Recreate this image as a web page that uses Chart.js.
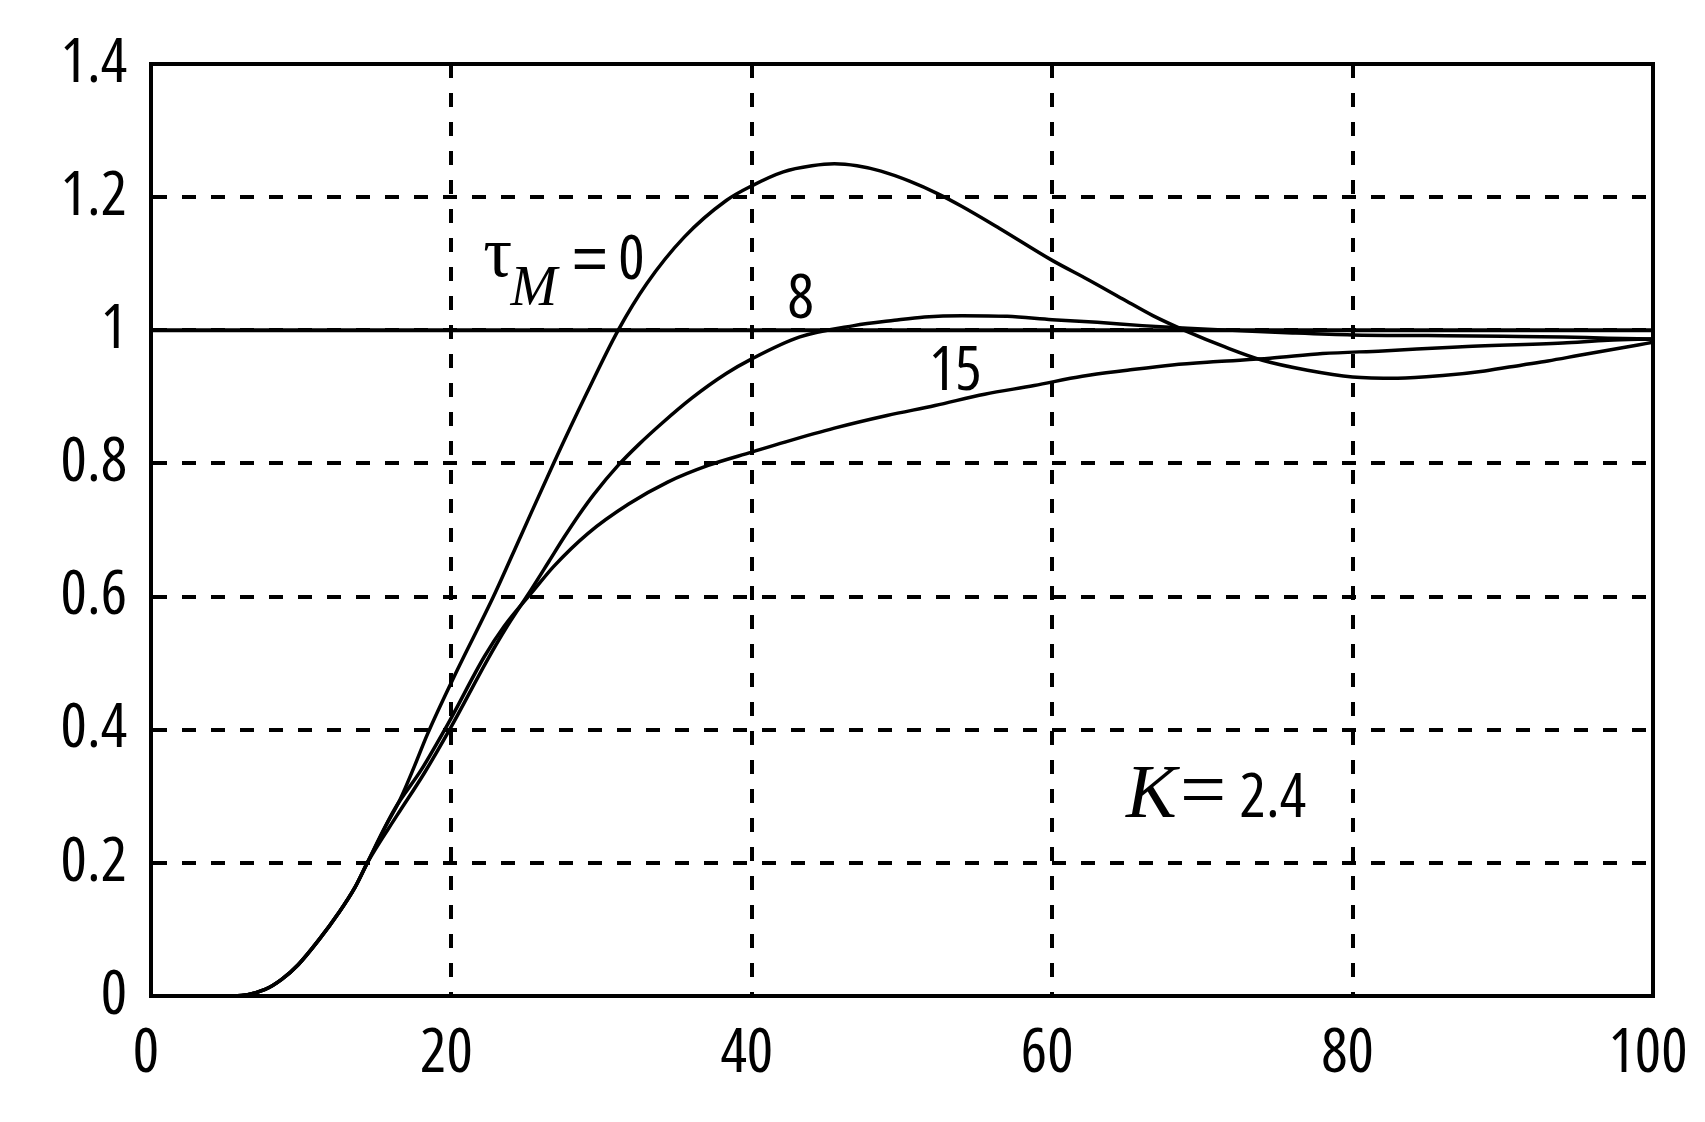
<!DOCTYPE html>
<html><head><meta charset="utf-8">
<script src="https://cdn.jsdelivr.net/npm/chart.js@4.4.1/dist/chart.umd.min.js"></script>
<style>html,body{margin:0;padding:0;background:#fff;}canvas{display:block;}</style>
</head><body>
<canvas id="c" width="1705" height="1122"></canvas>
<script>
// ---- data ----
const xTickLabels = ['0', '20', '40', '60', '80', '100'];
const yTickLabels = ['0', '0.2', '0.4', '0.6', '0.8', '1', '1.2', '1.4'];
const seriesNames = ['τM = 0', 'τM = 8', 'τM = 15'];

const t0 = [0, 5.5, 7.6, 8.7, 9.8, 11.2, 12.5, 13.6, 14.4, 15.5, 16.6, 17.5, 18.4, 20.4, 22.8, 24.6, 26.8, 29, 31.1, 33, 35.5, 38.3, 40, 42.1, 44, 45.5, 47, 48.6, 50.5, 52.4, 54, 56.5, 60, 62.4, 64.7, 66.7, 69, 71.5, 74, 77, 80, 83, 86, 88.8, 91.3, 93, 95, 97, 99, 100];
const v0 = [0, 0, 0.01, 0.025, 0.047, 0.085, 0.125, 0.164, 0.2, 0.25, 0.296, 0.343, 0.393, 0.49, 0.6, 0.69, 0.8, 0.905, 1.0, 1.07, 1.14, 1.195, 1.217, 1.238, 1.247, 1.25, 1.247, 1.239, 1.224, 1.205, 1.186, 1.153, 1.105, 1.076, 1.047, 1.022, 0.998, 0.975, 0.955, 0.94, 0.93, 0.928, 0.932, 0.939, 0.948, 0.954, 0.962, 0.97, 0.978, 0.982];

const t8 = [0, 5.5, 7.6, 8.7, 9.8, 11.2, 12.5, 13.6, 14.4, 16.4, 18.2, 20, 22.4, 23.7, 25.3, 26.5, 27.5, 28.5, 29.5, 31.1, 32.5, 34, 36, 38.3, 40, 43.2, 46.8, 49.5, 51.5, 54, 57, 60, 63, 66, 69, 72, 76, 80, 85, 90, 94, 97, 100];
const v8 = [0, 0, 0.01, 0.025, 0.047, 0.085, 0.125, 0.164, 0.2, 0.272, 0.335, 0.405, 0.505, 0.555, 0.61, 0.653, 0.689, 0.723, 0.754, 0.797, 0.829, 0.86, 0.898, 0.935, 0.957, 0.99, 1.007, 1.015, 1.02, 1.022, 1.021, 1.016, 1.012, 1.007, 1.003, 1.0, 0.996, 0.993, 0.992, 0.991, 0.99, 0.988, 0.987];

const t15 = [0, 5.5, 7.6, 8.7, 9.8, 11.2, 12.5, 13.6, 14.4, 16.2, 18, 19.8, 22.2, 23.5, 25.5, 26.8, 29.1, 31.8, 34.4, 37.1, 40, 42.2, 45.5, 49, 52.2, 55.5, 58.8, 62, 65, 68, 71, 74.5, 78, 82, 87, 94, 97, 100];
const v15 = [0, 0, 0.01, 0.025, 0.047, 0.085, 0.125, 0.164, 0.2, 0.28, 0.34, 0.41, 0.51, 0.555, 0.61, 0.645, 0.695, 0.739, 0.772, 0.797, 0.817, 0.832, 0.853, 0.872, 0.887, 0.904, 0.917, 0.931, 0.94, 0.948, 0.953, 0.958, 0.965, 0.969, 0.975, 0.981, 0.985, 0.987];

const refT = [0, 100];
const refV = [1, 1];

// ---- styles ----
const SANS = "'Open Sans', 'DejaVu Sans', sans-serif";
const ARIAL = "'Liberation Sans', 'DejaVu Sans', sans-serif";
const SERIF = "'Liberation Serif', 'DejaVu Serif', serif";

const notes = [
  { text: 'τ',   x: 23.09, y: 1.0818, font: '72px ' + SERIF },
  { text: 'M',   x: 25.49, y: 1.0383, font: 'italic 56px ' + SERIF },
  { text: '=',   x: 29.22, y: 1.0773, font: '62px ' + ARIAL },
  { text: '0',   x: 31.99, y: 1.0773, font: 'condensed 62px ' + SANS },
  { text: '8',   x: 43.25, y: 1.018,  font: 'condensed 62px ' + SANS },
  { text: '15',  x: 53.55, y: 0.9107, font: 'condensed 62px ' + SANS },
  { text: 'K',   x: 66.6,  y: 0.2686, font: 'italic 76px ' + SERIF },
  { text: '=',   x: 70.05, y: 0.2686, font: '82px ' + SERIF },
  { text: '2.4', x: 74.69, y: 0.2686, font: 'condensed 62px ' + SANS }
];

const toPts = (ts, vs) => ts.map((t, i) => ({ x: t, y: vs[i] }));

const curveStyle = {
  borderColor: '#000', borderWidth: 3.5, pointRadius: 0, fill: false,
  cubicInterpolationMode: 'monotone'
};

const framePlugin = {
  id: 'frameNotes',
  afterDatasetsDraw(chart) {
    const { ctx, chartArea: a, scales } = chart;
    ctx.save();
    ctx.strokeStyle = '#000';
    ctx.lineWidth = 4;
    ctx.strokeRect(a.left, a.top, a.right - a.left, a.bottom - a.top);
    ctx.fillStyle = '#000';
    ctx.textAlign = 'center';
    ctx.textBaseline = 'alphabetic';
    for (const n of notes) {
      ctx.font = n.font;
      ctx.fillText(n.text, scales.x.getPixelForValue(n.x), scales.y.getPixelForValue(n.y));
    }
    ctx.restore();
  }
};

new Chart(document.getElementById('c'), {
  type: 'line',
  data: {
    datasets: [
      Object.assign({ label: 'ref', data: toPts(refT, refV) }, curveStyle, { borderWidth: 4, cubicInterpolationMode: 'default', tension: 0 }),
      Object.assign({ label: seriesNames[0], data: toPts(t0, v0) }, curveStyle),
      Object.assign({ label: seriesNames[1], data: toPts(t8, v8) }, curveStyle),
      Object.assign({ label: seriesNames[2], data: toPts(t15, v15) }, curveStyle)
    ]
  },
  options: {
    responsive: false,
    animation: false,
    devicePixelRatio: 1,
    layout: { padding: { top: 64, right: 52, left: 0, bottom: 0 } },
    plugins: { legend: { display: false }, tooltip: { enabled: false } },
    scales: {
      x: {
        type: 'linear', min: 0, max: 100,
        afterFit(s) { s.height = 126; s.paddingLeft = 0; s.paddingRight = 0; },
        ticks: {
          stepSize: 20, color: '#000', padding: 21, labelOffset: -5,
          font: { family: SANS, size: 62, weight: 'condensed' },
          callback: (v, i) => xTickLabels[i]
        },
        grid: { color: '#000', lineWidth: 4, drawTicks: false },
        border: { display: true, color: '#000', width: 4, dash: [14, 15] }
      },
      y: {
        type: 'linear', min: 0, max: 1.4,
        afterFit(s) { s.width = 151; },
        ticks: {
          stepSize: 0.2, color: '#000', padding: 24,
          font: { family: SANS, size: 62, weight: 'condensed' },
          callback: (v, i) => yTickLabels[i]
        },
        grid: { color: '#000', lineWidth: 4, drawTicks: false },
        border: { display: true, color: '#000', width: 4, dash: [14, 15] }
      }
    }
  },
  plugins: [framePlugin]
});
</script>
</body></html>
